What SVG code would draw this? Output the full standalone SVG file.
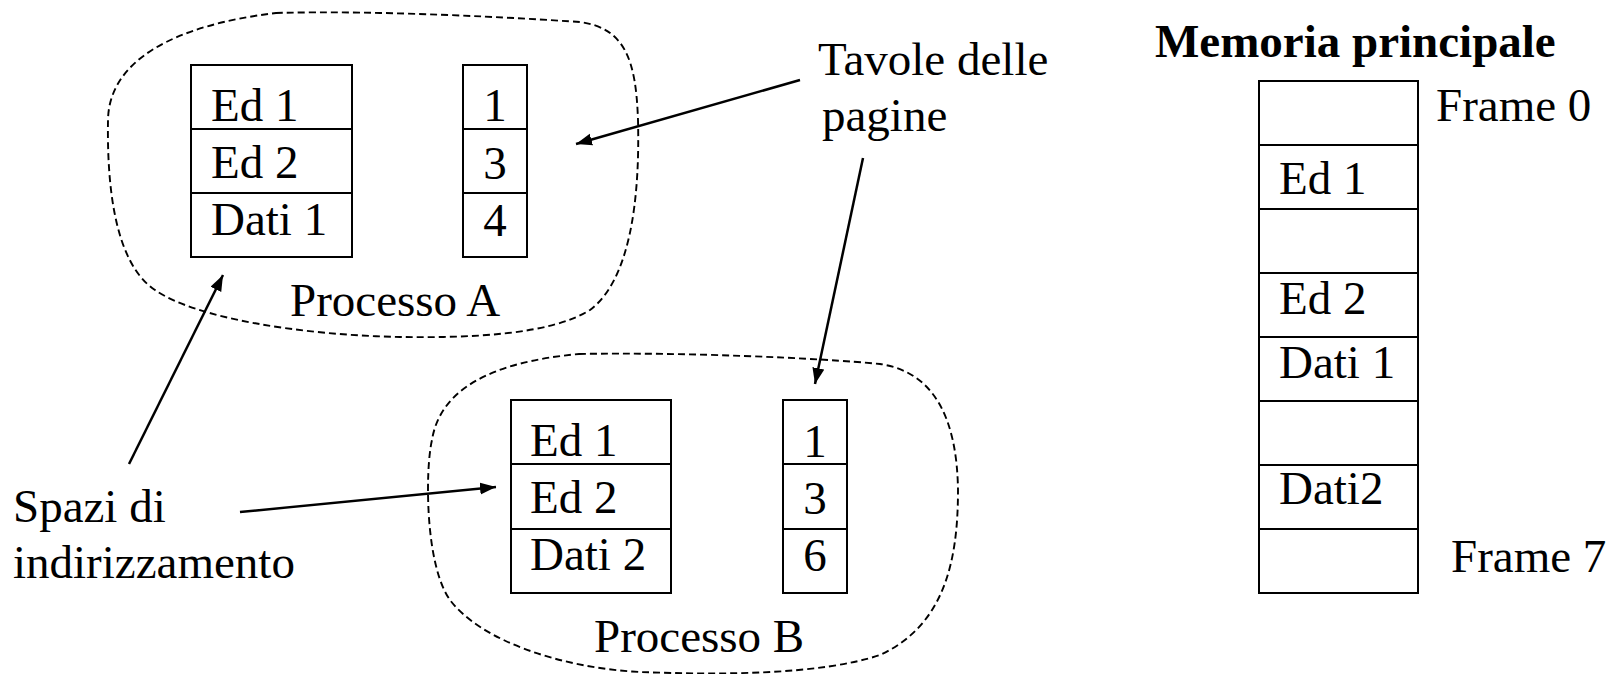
<svg xmlns="http://www.w3.org/2000/svg" width="1618" height="674" viewBox="0 0 1618 674">
<style>
  .bg { fill: #ffffff; }
  .box { fill: none; stroke: #000; stroke-width: 2; }
  .div { stroke: #000; stroke-width: 2; }
  .blob { fill: none; stroke: #000; stroke-width: 1.9; stroke-dasharray: 7 4; }
  .t { font-family: "Liberation Serif", "Times New Roman", serif; font-size: 47px; fill: #000; }
  .b { font-weight: bold; }
  .mid { text-anchor: middle; }
  .arrow { fill: none; stroke: #000; stroke-width: 2.5; marker-end: url(#ah); }
</style>
<defs>
  <marker id="ah" markerUnits="userSpaceOnUse" markerWidth="18" markerHeight="14" refX="16" refY="6" orient="auto">
    <path d="M0,0 L16,6 L0,12 z" fill="#000"/>
  </marker>
</defs>
<rect class="bg" x="0" y="0" width="1618" height="674"/>

<g id="processA">
  <path class="blob" d="M276,13 C380,10 520,18 580,22 C625,28 636,60 638,120 C640,200 630,280 590,310 C550,335 470,338 400,337 C300,335 195,318 155,290 C113,262 107,180 108,120 C109,60 175,25 276,13 Z"/>
  <g id="spaceA">
    <rect class="box" x="191" y="65" width="161" height="192"/>
    <line class="div" x1="191" y1="129" x2="352" y2="129"/>
    <line class="div" x1="191" y1="193" x2="352" y2="193"/>
    <text class="t" x="211" y="121">Ed 1</text>
    <text class="t" x="211" y="178">Ed 2</text>
    <text class="t" x="211" y="235">Dati 1</text>
  </g>
  <g id="tableA">
    <rect class="box" x="463" y="65" width="64" height="192"/>
    <line class="div" x1="463" y1="129" x2="527" y2="129"/>
    <line class="div" x1="463" y1="193" x2="527" y2="193"/>
    <text class="t mid" x="495" y="121">1</text>
    <text class="t mid" x="495" y="179">3</text>
    <text class="t mid" x="495" y="236">4</text>
  </g>
  <text class="t" x="290" y="316">Processo A</text>
</g>

<g id="processB">
  <path class="blob" d="M579,354 C680,352 820,358 880,364 C935,372 957,420 958,490 C958,560 945,625 880,655 C820,675 720,675 640,672 C560,668 480,640 450,600 C425,565 425,470 432,440 C440,390 490,362 579,354 Z"/>
  <g id="spaceB">
    <rect class="box" x="511" y="400" width="160" height="193"/>
    <line class="div" x1="511" y1="464" x2="671" y2="464"/>
    <line class="div" x1="511" y1="529" x2="671" y2="529"/>
    <text class="t" x="530" y="456">Ed 1</text>
    <text class="t" x="530" y="513">Ed 2</text>
    <text class="t" x="530" y="570">Dati 2</text>
  </g>
  <g id="tableB">
    <rect class="box" x="783" y="400" width="64" height="193"/>
    <line class="div" x1="783" y1="464" x2="847" y2="464"/>
    <line class="div" x1="783" y1="529" x2="847" y2="529"/>
    <text class="t mid" x="815" y="457">1</text>
    <text class="t mid" x="815" y="514">3</text>
    <text class="t mid" x="815" y="571">6</text>
  </g>
  <text class="t" x="594" y="652">Processo B</text>
</g>

<g id="memory">
  <text class="t b" x="1155" y="57">Memoria principale</text>
  <rect class="box" x="1259" y="81" width="159" height="512"/>
  <line class="div" x1="1259" y1="145" x2="1418" y2="145"/>
  <line class="div" x1="1259" y1="209" x2="1418" y2="209"/>
  <line class="div" x1="1259" y1="273" x2="1418" y2="273"/>
  <line class="div" x1="1259" y1="337" x2="1418" y2="337"/>
  <line class="div" x1="1259" y1="401" x2="1418" y2="401"/>
  <line class="div" x1="1259" y1="465" x2="1418" y2="465"/>
  <line class="div" x1="1259" y1="529" x2="1418" y2="529"/>
  <text class="t" x="1279" y="194">Ed 1</text>
  <text class="t" x="1279" y="314">Ed 2</text>
  <text class="t" x="1279" y="378">Dati 1</text>
  <text class="t" x="1279" y="504">Dati2</text>
  <text class="t" x="1436" y="121">Frame 0</text>
  <text class="t" x="1451" y="572">Frame 7</text>
</g>

<g id="labelTavole">
  <text class="t" x="818" y="75">Tavole delle</text>
  <text class="t" x="822" y="131">pagine</text>
</g>

<g id="labelSpazi">
  <text class="t" x="13" y="522">Spazi di</text>
  <text class="t" x="13" y="578">indirizzamento</text>
</g>

<g id="connectors">
  <line class="arrow" x1="800" y1="80" x2="576" y2="144"/>
  <line class="arrow" x1="863" y1="158" x2="815" y2="384"/>
  <line class="arrow" x1="129" y1="464" x2="223" y2="275"/>
  <line class="arrow" x1="240" y1="512" x2="496" y2="487"/>
</g>
</svg>
